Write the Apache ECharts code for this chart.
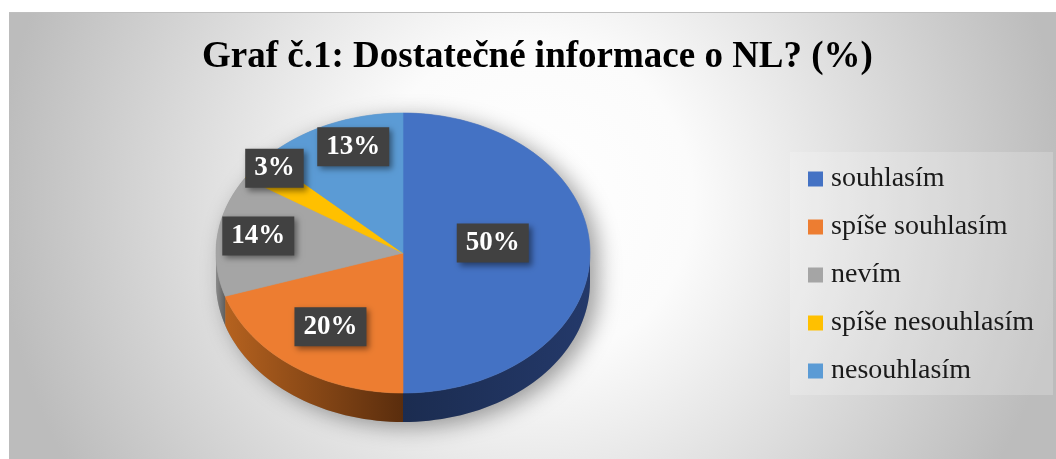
<!DOCTYPE html>
<html>
<head>
<meta charset="utf-8">
<title>Graf č.1</title>
<script src="https://cdn.jsdelivr.net/npm/echarts@6/dist/echarts.min.js"></script>
<style>
  html, body { margin: 0; padding: 0; background: #fff; }
  #chart {
    position: absolute; left: 9px; top: 12px; width: 1047px; height: 447px;
    border-top: 1px solid #bfbfbf; box-sizing: border-box;
  }
</style>
</head>
<body>
<div id="chart"></div>
<script>
const titleText = 'Graf č.1: Dostatečné informace o NL? (%)'
const categories = ['souhlasím', 'spíše souhlasím', 'nevím', 'spíše nesouhlasím', 'nesouhlasím']
const shares = [50, 20, 14, 3, 13]

const topColors = ['#4472c4', '#ed7d31', '#a5a5a5', '#ffc000', '#5b9bd5']
const sideColors = [['#1b2c50', '#24396a'], ['#b5621f', '#5a2d0d'], ['#8a8a8a', '#5e5e5e'], ['#b88a00', '#7a5c00'], ['#3f74a6', '#2a527a']]
// label placement on each slice's mid angle: [x reach, y reach] as fraction of radius
const labelReach = [[0.48, 0.5], [0.66, 0.74], [0.78, 0.4], [0.87, 0.87], [0.67, 0.75]]
const labelLift = 10

// tilted pie geometry, px inside the chart box
const pie = { cx: 394, cy: 240, rx: 187, ry: 140, depth: 29 }

const total = shares.reduce((a, b) => a + b, 0)
const bounds = []
shares.reduce((acc, v) => {
  const end = acc + v / total * 360
  bounds.push([acc, end])
  return end
}, 0)

// angle in degrees, clockwise from 12 o'clock
const pt = (deg, dy = 0, kx = 1, ky = 1) => {
  const r = deg * Math.PI / 180
  return [pie.cx + pie.rx * kx * Math.sin(r), pie.cy - pie.ry * ky * Math.cos(r) + dy]
}
const arc = (a1, a2, dy) => {
  const n = Math.max(2, Math.ceil((a2 - a1) / 2))
  const out = []
  for (let k = 0; k <= n; k++) out.push(pt(a1 + (a2 - a1) * k / n, dy))
  return out
}

const renderSlice = (i) => {
  const [a1, a2] = bounds[i]
  const children = [{
    type: 'polygon',
    z2: 10,
    shape: { points: [[pie.cx, pie.cy], ...arc(a1, a2, 0)] },
    style: { fill: topColors[i], stroke: topColors[i], lineWidth: 0.6 }
  }]
  // only the front half of the rim is visible
  const s = Math.max(a1, 90)
  const e = Math.min(a2, 270)
  if (s < e) {
    children.push({
      type: 'polygon',
      z2: 5,
      shape: { points: [...arc(s, e, 0), ...arc(s, e, pie.depth).reverse()] },
      style: {
        fill: new echarts.graphic.LinearGradient(0, 0, 1, 0, [
          { offset: 0, color: sideColors[i][0] },
          { offset: 1, color: sideColors[i][1] }
        ])
      }
    })
  }
  const [lx, ly] = pt((a1 + a2) / 2, -labelLift, labelReach[i][0], labelReach[i][1])
  children.push({
    type: 'text',
    z2: 100,
    x: lx,
    y: ly,
    style: {
      text: shares[i] + '%',
      fontFamily: 'Liberation Serif',
      fontWeight: 'bold',
      fontSize: 27,
      fill: '#fff',
      align: 'center',
      verticalAlign: 'middle',
      backgroundColor: '#414141',
      padding: [6, 9, 6, 9],
      shadowColor: 'rgba(0,0,0,0.45)',
      shadowBlur: 6,
      shadowOffsetX: 3,
      shadowOffsetY: 3
    }
  })
  return { type: 'group', children }
}

const renderShadow = () => ({
  type: 'polygon',
  z2: 0,
  shape: { points: [...arc(-90, 90, 0), ...arc(90, 270, pie.depth)] },
  style: {
    fill: '#9a9a9a',
    shadowColor: 'rgba(0,0,0,0.38)',
    shadowBlur: 22,
    shadowOffsetX: 8,
    shadowOffsetY: 5
  }
})

const chart = echarts.init(document.getElementById('chart'))
chart.setOption({
  animation: false,
  color: topColors,
  backgroundColor: new echarts.graphic.RadialGradient(0.5, 0.42, 1.2, [
    { offset: 0, color: '#ffffff' },
    { offset: 0.3, color: '#fbfbfb' },
    { offset: 1, color: '#bcbcbc' }
  ]),
  title: {
    text: titleText,
    left: 193,
    top: 26,
    padding: 0,
    textStyle: { fontFamily: 'Liberation Serif', fontWeight: 'bold', fontSize: 37, color: '#000' }
  },
  legend: {
    data: categories,
    orient: 'vertical',
    left: 781,
    top: 139,
    padding: [13, 19, 10, 18],
    backgroundColor: 'rgba(255,255,255,0.2)',
    icon: 'rect',
    itemWidth: 15,
    itemHeight: 15,
    itemGap: 20,
    selectedMode: false,
    textStyle: { fontFamily: 'Liberation Serif', fontSize: 28, lineHeight: 28, color: '#1a1a1a', padding: [0, 0, 0, 3] }
  },
  series: [
    ...categories.map((name, i) => ({
      type: 'custom',
      name,
      coordinateSystem: 'none',
      data: [shares[i]],
      renderItem: () => renderSlice(i)
    })),
    {
      type: 'custom',
      name: 'stín',
      z: 1,
      coordinateSystem: 'none',
      itemStyle: { color: '#9a9a9a' },
      data: [0],
      renderItem: renderShadow
    }
  ]
})
window.addEventListener('resize', () => chart.resize())
</script>
</body>
</html>
